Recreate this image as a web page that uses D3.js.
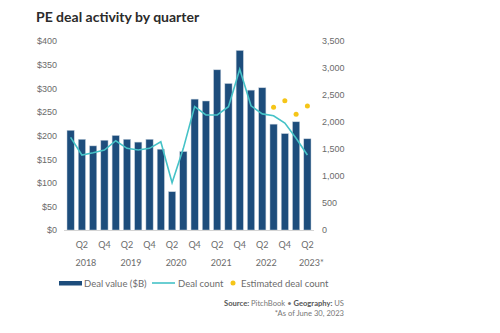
<!DOCTYPE html>
<html>
<head>
<meta charset="utf-8">
<script src="https://cdn.jsdelivr.net/npm/d3@7"></script>
<style>
  body { margin: 0; background: #fff; }
  svg { display: block; font-family: Lato, "Open Sans", sans-serif; }
</style>
</head>
<body>
<svg id="chart" width="500" height="333"></svg>
<script>
const quarters = ["Q1", "Q2", "Q3", "Q4"];
const years = ["2018", "2019", "2020", "2021", "2022", "2023*"];
// Q1 2018 .. Q2 2023
const dealValue = [211, 192, 178, 190, 200, 192, 186, 192, 171, 81, 166,
  277, 273, 339, 310, 380, 296, 301, 224, 204, 229, 193];
const dealCount = [1716, 1389, 1430, 1481, 1653, 1512, 1481, 1512, 1634, 875, 1512,
  2284, 2130, 2130, 2284, 2976, 2300, 2150, 2115, 1980, 1700, 1389];
// estimated counts for Q3 2022 .. Q2 2023
const estIndex = [18, 19, 20, 21];
const estCount = [2272, 2395, 2142, 2296];
const leftTicks = [0, 50, 100, 150, 200, 250, 300, 350, 400];
const rightTicks = [0, 500, 1000, 1500, 2000, 2500, 3000, 3500];

const labels = dealValue.map((d, i) => quarters[i % 4] + " " + (2018 + Math.floor(i / 4)));

const navy = "#1d4d7c", teal = "#45c2c7", gold = "#f5c518", grey = "#6b6b6b";

const svg = d3.select("#chart");

const x = d3.scaleBand().domain(d3.range(dealValue.length)).range([67, 311]).paddingInner(0.36);
const yL = d3.scaleLinear().domain([0, 400]).range([230, 41]);
const yR = d3.scaleLinear().domain([0, 3500]).range([230, 41]);
const cx = i => x(i) + x.bandwidth() / 2;

svg.append("text")
  .attr("x", 36).attr("y", 22)
  .attr("font-size", 14).attr("font-weight", 700).attr("fill", "#2b2b2b")
  .text("PE deal activity by quarter");

// left axis ($B)
svg.append("g")
  .attr("transform", "translate(57,0)")
  .call(d3.axisLeft(yL).tickValues(leftTicks).tickSize(0).tickPadding(0).tickFormat(d => "$" + d))
  .call(g => g.select(".domain").remove())
  .call(g => g.selectAll("text").attr("font-size", 9).attr("fill", grey).attr("font-family", null));

// right axis (count)
svg.append("g")
  .attr("transform", "translate(322,0)")
  .call(d3.axisRight(yR).tickValues(rightTicks).tickSize(0).tickPadding(0).tickFormat(d3.format(",")))
  .call(g => g.select(".domain").remove())
  .call(g => g.selectAll("text").attr("font-size", 9).attr("fill", grey).attr("font-family", null));

// bars
svg.append("g").selectAll("rect").data(dealValue).join("rect")
  .attr("x", (d, i) => x(i))
  .attr("y", d => yL(d))
  .attr("width", x.bandwidth())
  .attr("height", d => yL(0) - yL(d))
  .attr("fill", navy)
  .attr("stroke", "#c3cfdb").attr("stroke-width", 0.5);

svg.append("line")
  .attr("x1", 64).attr("x2", 314).attr("y1", 230.5).attr("y2", 230.5)
  .attr("stroke", "#d4d4d4").attr("stroke-width", 1);

// deal count line
svg.append("path")
  .datum(dealCount)
  .attr("fill", "none").attr("stroke", teal).attr("stroke-width", 1.6)
  .attr("d", d3.line().x((d, i) => cx(i)).y(d => yR(d)));

// estimated deal count dots
svg.append("g").selectAll("circle").data(estCount).join("circle")
  .attr("cx", (d, i) => cx(estIndex[i]))
  .attr("cy", d => yR(d))
  .attr("r", 2.5)
  .attr("fill", gold);

// x labels: Q2 and Q4 of each year, year under Q2
const xl = svg.append("g").attr("font-size", 9).attr("fill", grey).attr("text-anchor", "middle");
xl.selectAll("text.q").data(labels.filter((d, i) => i % 2 === 1)).join("text")
  .attr("class", "q")
  .attr("x", d => cx(labels.indexOf(d)))
  .attr("y", 248)
  .text(d => d.split(" ")[0]);
xl.selectAll("text.yr").data(years).join("text")
  .attr("class", "yr")
  .attr("x", (d, i) => cx(i * 4 + 1) + 4)
  .attr("y", 266)
  .text(d => d);

// legend
const lg = svg.append("g").attr("font-size", 9.5).attr("fill", grey);
lg.append("rect").attr("x", 59).attr("y", 281).attr("width", 23).attr("height", 4.5).attr("fill", navy);
lg.append("text").attr("x", 84).attr("y", 286.5).text("Deal value ($B)");
lg.append("line").attr("x1", 152).attr("x2", 175).attr("y1", 283).attr("y2", 283)
  .attr("stroke", teal).attr("stroke-width", 1.6);
lg.append("text").attr("x", 178).attr("y", 286.5).text("Deal count");
lg.append("circle").attr("cx", 233).attr("cy", 283).attr("r", 2.5).attr("fill", gold);
lg.append("text").attr("x", 241).attr("y", 286.5).text("Estimated deal count");

// source note
const src = svg.append("text").attr("x", 344).attr("y", 306).attr("text-anchor", "end")
  .attr("font-size", 7.6).attr("fill", "#777");
src.append("tspan").attr("font-weight", 700).attr("fill", "#555").text("Source: ");
src.append("tspan").text("PitchBook  •  ");
src.append("tspan").attr("font-weight", 700).attr("fill", "#555").text("Geography: ");
src.append("tspan").text("US");
svg.append("text").attr("x", 344).attr("y", 316).attr("text-anchor", "end")
  .attr("font-size", 7.6).attr("fill", "#777").text("*As of June 30, 2023");
</script>
</body>
</html>
